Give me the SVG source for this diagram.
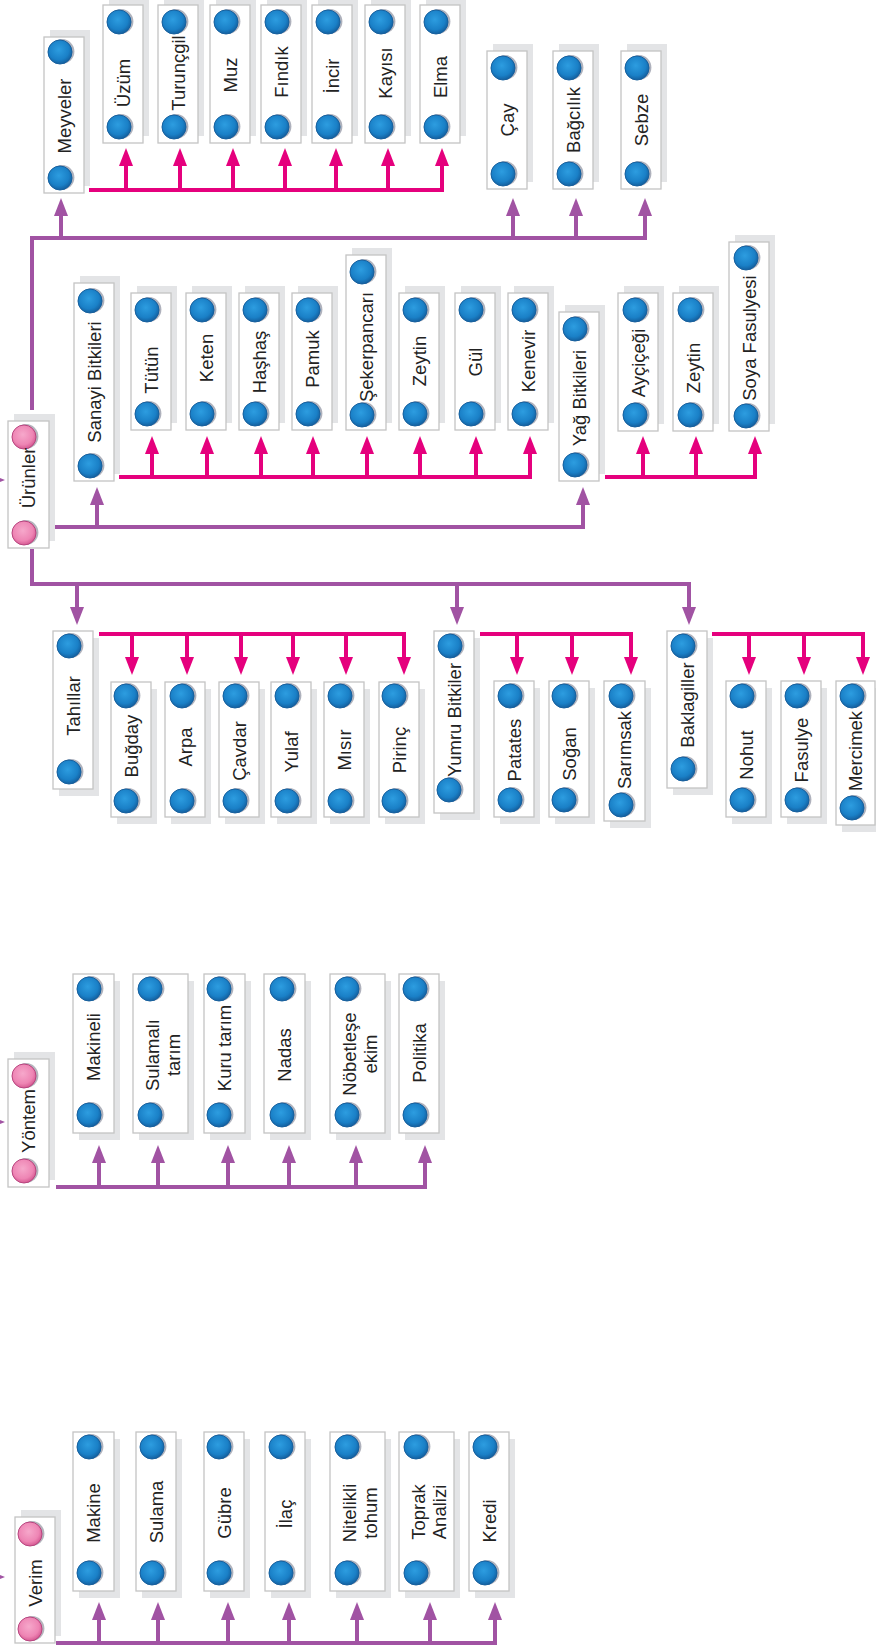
<svg xmlns="http://www.w3.org/2000/svg" xmlns:xlink="http://www.w3.org/1999/xlink" width="876" height="1648" viewBox="0 0 876 1648">
<style>
.box{fill:#fff;stroke:#c4c4c4;stroke-width:1.3}
.sh{fill:#e3e4e6}
.t{font-family:"Liberation Sans",Arial,sans-serif;font-size:18.5px;fill:#222;text-anchor:middle}
.pk{fill:none;stroke:#e5007d;stroke-width:4}
.pk.a{marker-end:url(#ap)}
.pu{fill:none;stroke:#a153a3;stroke-width:4}
.pu.a{marker-end:url(#aq)}
</style>
<defs>
<radialGradient id="gb" cx="45%" cy="40%" r="60%">
<stop offset="0" stop-color="#2d9de0"/><stop offset="0.7" stop-color="#1a80c7"/><stop offset="1" stop-color="#14609f"/>
</radialGradient>
<radialGradient id="gp" cx="45%" cy="40%" r="60%">
<stop offset="0" stop-color="#f6a8cb"/><stop offset="0.7" stop-color="#ee85b4"/><stop offset="1" stop-color="#d65a93"/>
</radialGradient>
<g id="bd"><circle cx="2" cy="-0.5" r="12.4" fill="#aeb1bc"/><circle r="12" fill="url(#gb)" stroke="#17609e" stroke-width="1"/></g>
<g id="pd"><circle cx="2" cy="-0.5" r="12.4" fill="#b4b4bc"/><circle r="12" fill="url(#gp)" stroke="#b8457f" stroke-width="1"/></g>
<marker id="ap" viewBox="0 0 18 14" refX="8" refY="7" markerWidth="18" markerHeight="14" markerUnits="userSpaceOnUse" orient="auto"><path d="M0,0 L18,7 L0,14 z" fill="#e5007d"/></marker>
<marker id="aq" viewBox="0 0 18 14" refX="8" refY="7" markerWidth="18" markerHeight="14" markerUnits="userSpaceOnUse" orient="auto"><path d="M0,0 L18,7 L0,14 z" fill="#a153a3"/></marker>
</defs>

<g id="connectors">
<path class="pu a" d="M32,410 V238 H645 V208"/>
<path class="pu a" d="M61,238 V208"/><path class="pu a" d="M513,238 V208"/><path class="pu a" d="M576,238 V208"/>
<path class="pu a" d="M55,527 H583 V497"/><path class="pu a" d="M97,527 V497"/>
<path class="pu a" d="M32,549 V584 H689 V615"/><path class="pu a" d="M77,584 V615"/><path class="pu a" d="M457,584 V615"/>
<path class="pu a" d="M56,1187 H425 V1155"/>
<path class="pu a" d="M99,1187 V1155"/><path class="pu a" d="M158,1187 V1155"/><path class="pu a" d="M228,1187 V1155"/><path class="pu a" d="M289,1187 V1155"/><path class="pu a" d="M356,1187 V1155"/>
<path class="pu a" d="M56,1643 H495 V1612"/>
<path class="pu a" d="M99,1643 V1612"/><path class="pu a" d="M158,1643 V1612"/><path class="pu a" d="M228,1643 V1612"/><path class="pu a" d="M289,1643 V1612"/><path class="pu a" d="M357,1643 V1612"/><path class="pu a" d="M430,1643 V1612"/>
<path class="pu a" d="M-13,480 H-5"/><path class="pu a" d="M-13,1122 H-5"/><path class="pu a" d="M-13,1577 H-5"/>

<path class="pk a" d="M89,190 H442 V158"/>
<path class="pk a" d="M126,190 V158"/><path class="pk a" d="M180,190 V158"/><path class="pk a" d="M233,190 V158"/><path class="pk a" d="M285,190 V158"/><path class="pk a" d="M336,190 V158"/><path class="pk a" d="M388,190 V158"/>
<path class="pk a" d="M119,477 H530 V446"/>
<path class="pk a" d="M152,477 V446"/><path class="pk a" d="M207,477 V446"/><path class="pk a" d="M261,477 V446"/><path class="pk a" d="M313,477 V446"/><path class="pk a" d="M367,477 V446"/><path class="pk a" d="M420,477 V446"/><path class="pk a" d="M476,477 V446"/>
<path class="pk a" d="M605,477 H755 V446"/><path class="pk a" d="M643,477 V446"/><path class="pk a" d="M696,477 V446"/>
<path class="pk a" d="M99,634 H404 V665"/>
<path class="pk a" d="M132,634 V665"/><path class="pk a" d="M187,634 V665"/><path class="pk a" d="M241,634 V665"/><path class="pk a" d="M293,634 V665"/><path class="pk a" d="M346,634 V665"/>
<path class="pk a" d="M480,634 H631 V665"/><path class="pk a" d="M517,634 V665"/><path class="pk a" d="M572,634 V665"/>
<path class="pk a" d="M712,634 H863 V665"/><path class="pk a" d="M749,634 V665"/><path class="pk a" d="M804,634 V665"/>
</g>

<!-- Row 1 -->
<g id="n-meyveler"><rect class="sh" x="50" y="30" width="40" height="156"/><rect class="box" x="44" y="37" width="40" height="156"/><use xlink:href="#bd" x="60" y="52"/><use xlink:href="#bd" x="60" y="178"/><text class="t" transform="translate(64,116) rotate(-90)" y="6.5">Meyveler</text></g>
<g id="n-uzum"><rect class="sh" x="109" y="-2" width="40" height="138"/><rect class="box" x="103" y="5" width="40" height="138"/><use xlink:href="#bd" x="119" y="22"/><use xlink:href="#bd" x="119" y="127"/><text class="t" transform="translate(123,83) rotate(-90)" y="6.5">Üzüm</text></g>
<g id="n-turuncgil"><rect class="sh" x="164" y="-2" width="40" height="138"/><rect class="box" x="158" y="5" width="40" height="138"/><use xlink:href="#bd" x="174" y="22"/><use xlink:href="#bd" x="174" y="127"/><text class="t" transform="translate(178,73) rotate(-90)" y="6.5">Turunçgil</text></g>
<g id="n-muz"><rect class="sh" x="216" y="-2" width="40" height="138"/><rect class="box" x="210" y="5" width="40" height="138"/><use xlink:href="#bd" x="226" y="22"/><use xlink:href="#bd" x="226" y="127"/><text class="t" transform="translate(230,75) rotate(-90)" y="6.5">Muz</text></g>
<g id="n-findik"><rect class="sh" x="267" y="-2" width="40" height="138"/><rect class="box" x="261" y="5" width="40" height="138"/><use xlink:href="#bd" x="277" y="22"/><use xlink:href="#bd" x="277" y="127"/><text class="t" transform="translate(281,72) rotate(-90)" y="6.5">Fındık</text></g>
<g id="n-incir"><rect class="sh" x="318" y="-2" width="40" height="138"/><rect class="box" x="312" y="5" width="40" height="138"/><use xlink:href="#bd" x="328" y="22"/><use xlink:href="#bd" x="328" y="127"/><text class="t" transform="translate(332,76) rotate(-90)" y="6.5">İncir</text></g>
<g id="n-kayisi"><rect class="sh" x="371" y="-2" width="40" height="138"/><rect class="box" x="365" y="5" width="40" height="138"/><use xlink:href="#bd" x="381" y="22"/><use xlink:href="#bd" x="381" y="127"/><text class="t" transform="translate(385,73) rotate(-90)" y="6.5">Kayısı</text></g>
<g id="n-elma"><rect class="sh" x="426" y="-2" width="40" height="138"/><rect class="box" x="420" y="5" width="40" height="138"/><use xlink:href="#bd" x="436" y="22"/><use xlink:href="#bd" x="436" y="127"/><text class="t" transform="translate(440,77) rotate(-90)" y="6.5">Elma</text></g>
<g id="n-cay"><rect class="sh" x="493" y="44" width="40" height="138"/><rect class="box" x="487" y="51" width="40" height="138"/><use xlink:href="#bd" x="503" y="68"/><use xlink:href="#bd" x="503" y="174"/><text class="t" transform="translate(507,120) rotate(-90)" y="6.5">Çay</text></g>
<g id="n-bagcilik"><rect class="sh" x="559" y="44" width="40" height="138"/><rect class="box" x="553" y="51" width="40" height="138"/><use xlink:href="#bd" x="569" y="68"/><use xlink:href="#bd" x="569" y="174"/><text class="t" transform="translate(573,120) rotate(-90)" y="6.5">Bağcılık</text></g>
<g id="n-sebze"><rect class="sh" x="627" y="44" width="40" height="138"/><rect class="box" x="621" y="51" width="40" height="138"/><use xlink:href="#bd" x="637" y="68"/><use xlink:href="#bd" x="637" y="174"/><text class="t" transform="translate(641,120) rotate(-90)" y="6.5">Sebze</text></g>

<!-- Row 2 -->
<g id="n-urunler"><rect class="sh" x="14" y="414" width="41" height="127"/><rect class="box" x="8" y="421" width="41" height="127"/><use xlink:href="#pd" x="24" y="437"/><use xlink:href="#pd" x="24" y="533"/><text class="t" transform="translate(28.5,478) rotate(-90)" y="6.5">Ürünler</text></g>
<g id="n-sanayi"><rect class="sh" x="80" y="276" width="40" height="198"/><rect class="box" x="74" y="283" width="40" height="198"/><use xlink:href="#bd" x="90" y="301"/><use xlink:href="#bd" x="90" y="466"/><text class="t" transform="translate(94,382) rotate(-90)" y="6.5">Sanayi Bitkileri</text></g>
<g id="n-tutun"><rect class="sh" x="137" y="286" width="40" height="137"/><rect class="box" x="131" y="293" width="40" height="137"/><use xlink:href="#bd" x="147" y="310"/><use xlink:href="#bd" x="147" y="414"/><text class="t" transform="translate(151,370) rotate(-90)" y="6.5">Tütün</text></g>
<g id="n-keten"><rect class="sh" x="192" y="286" width="40" height="137"/><rect class="box" x="186" y="293" width="40" height="137"/><use xlink:href="#bd" x="202" y="310"/><use xlink:href="#bd" x="202" y="414"/><text class="t" transform="translate(206,358) rotate(-90)" y="6.5">Keten</text></g>
<g id="n-hashas"><rect class="sh" x="245" y="286" width="40" height="137"/><rect class="box" x="239" y="293" width="40" height="137"/><use xlink:href="#bd" x="255" y="310"/><use xlink:href="#bd" x="255" y="414"/><text class="t" transform="translate(259,362) rotate(-90)" y="6.5">Haşhaş</text></g>
<g id="n-pamuk"><rect class="sh" x="298" y="286" width="40" height="137"/><rect class="box" x="292" y="293" width="40" height="137"/><use xlink:href="#bd" x="308" y="310"/><use xlink:href="#bd" x="308" y="414"/><text class="t" transform="translate(312,359) rotate(-90)" y="6.5">Pamuk</text></g>
<g id="n-sekerpancari"><rect class="sh" x="352" y="248" width="40" height="175"/><rect class="box" x="346" y="255" width="40" height="175"/><use xlink:href="#bd" x="362" y="272"/><use xlink:href="#bd" x="362" y="415"/><text class="t" transform="translate(366,347) rotate(-90)" y="6.5">Şekerpancarı</text></g>
<g id="n-zeytin1"><rect class="sh" x="405" y="286" width="40" height="137"/><rect class="box" x="399" y="293" width="40" height="137"/><use xlink:href="#bd" x="415" y="310"/><use xlink:href="#bd" x="415" y="414"/><text class="t" transform="translate(419,361) rotate(-90)" y="6.5">Zeytin</text></g>
<g id="n-gul"><rect class="sh" x="461" y="286" width="40" height="137"/><rect class="box" x="455" y="293" width="40" height="137"/><use xlink:href="#bd" x="471" y="310"/><use xlink:href="#bd" x="471" y="414"/><text class="t" transform="translate(475,362) rotate(-90)" y="6.5">Gül</text></g>
<g id="n-kenevir"><rect class="sh" x="514" y="286" width="40" height="137"/><rect class="box" x="508" y="293" width="40" height="137"/><use xlink:href="#bd" x="524" y="310"/><use xlink:href="#bd" x="524" y="414"/><text class="t" transform="translate(528,361) rotate(-90)" y="6.5">Kenevir</text></g>
<g id="n-yag"><rect class="sh" x="565" y="305" width="40" height="169"/><rect class="box" x="559" y="312" width="40" height="169"/><use xlink:href="#bd" x="575" y="329"/><use xlink:href="#bd" x="575" y="465"/><text class="t" transform="translate(579,398) rotate(-90)" y="6.5">Yağ Bitkileri</text></g>
<g id="n-aycicegi"><rect class="sh" x="624" y="286" width="40" height="138"/><rect class="box" x="618" y="293" width="40" height="138"/><use xlink:href="#bd" x="635" y="310"/><use xlink:href="#bd" x="635" y="415"/><text class="t" transform="translate(638,363) rotate(-90)" y="6.5">Ayçiçeği</text></g>
<g id="n-zeytin2"><rect class="sh" x="679" y="286" width="40" height="138"/><rect class="box" x="673" y="293" width="40" height="138"/><use xlink:href="#bd" x="690" y="310"/><use xlink:href="#bd" x="690" y="415"/><text class="t" transform="translate(693,368) rotate(-90)" y="6.5">Zeytin</text></g>
<g id="n-soya"><rect class="sh" x="735" y="235" width="40" height="189"/><rect class="box" x="729" y="242" width="40" height="189"/><use xlink:href="#bd" x="746" y="258"/><use xlink:href="#bd" x="746" y="416"/><text class="t" transform="translate(749,338) rotate(-90)" y="6.5">Soya Fasulyesi</text></g>

<!-- Row 3 -->
<g id="n-tahillar"><rect class="sh" x="59" y="638" width="40" height="158"/><rect class="box" x="53" y="631" width="40" height="158"/><use xlink:href="#bd" x="69" y="646"/><use xlink:href="#bd" x="69" y="772"/><text class="t" transform="translate(73,706) rotate(-90)" y="6.5">Tahıllar</text></g>
<g id="n-bugday"><rect class="sh" x="117" y="689" width="40" height="135"/><rect class="box" x="111" y="682" width="40" height="135"/><use xlink:href="#bd" x="126" y="696"/><use xlink:href="#bd" x="126" y="801"/><text class="t" transform="translate(131,746) rotate(-90)" y="6.5">Buğday</text></g>
<g id="n-arpa"><rect class="sh" x="171" y="689" width="40" height="135"/><rect class="box" x="165" y="682" width="40" height="135"/><use xlink:href="#bd" x="182" y="696"/><use xlink:href="#bd" x="182" y="801"/><text class="t" transform="translate(185,747) rotate(-90)" y="6.5">Arpa</text></g>
<g id="n-cavdar"><rect class="sh" x="225" y="689" width="40" height="135"/><rect class="box" x="219" y="682" width="40" height="135"/><use xlink:href="#bd" x="235" y="696"/><use xlink:href="#bd" x="235" y="801"/><text class="t" transform="translate(239,751) rotate(-90)" y="6.5">Çavdar</text></g>
<g id="n-yulaf"><rect class="sh" x="277" y="689" width="40" height="135"/><rect class="box" x="271" y="682" width="40" height="135"/><use xlink:href="#bd" x="287" y="696"/><use xlink:href="#bd" x="287" y="801"/><text class="t" transform="translate(291,752) rotate(-90)" y="6.5">Yulaf</text></g>
<g id="n-misir"><rect class="sh" x="330" y="689" width="40" height="135"/><rect class="box" x="324" y="682" width="40" height="135"/><use xlink:href="#bd" x="340" y="696"/><use xlink:href="#bd" x="340" y="801"/><text class="t" transform="translate(344,750) rotate(-90)" y="6.5">Mısır</text></g>
<g id="n-pirinc"><rect class="sh" x="385" y="689" width="40" height="135"/><rect class="box" x="379" y="682" width="40" height="135"/><use xlink:href="#bd" x="394" y="696"/><use xlink:href="#bd" x="394" y="801"/><text class="t" transform="translate(399,750) rotate(-90)" y="6.5">Pirinç</text></g>
<g id="n-yumru"><rect class="sh" x="440" y="638" width="40" height="182"/><rect class="box" x="434" y="631" width="40" height="182"/><use xlink:href="#bd" x="450" y="646"/><use xlink:href="#bd" x="449" y="790"/><text class="t" transform="translate(454,720) rotate(-90)" y="6.5">Yumru Bitkiler</text></g>
<g id="n-patates"><rect class="sh" x="500" y="688" width="40" height="136"/><rect class="box" x="494" y="681" width="40" height="136"/><use xlink:href="#bd" x="510" y="696"/><use xlink:href="#bd" x="510" y="800"/><text class="t" transform="translate(514,750) rotate(-90)" y="6.5">Patates</text></g>
<g id="n-sogan"><rect class="sh" x="555" y="688" width="40" height="136"/><rect class="box" x="549" y="681" width="40" height="136"/><use xlink:href="#bd" x="564" y="696"/><use xlink:href="#bd" x="564" y="800"/><text class="t" transform="translate(569,754) rotate(-90)" y="6.5">Soğan</text></g>
<g id="n-sarimsak"><rect class="sh" x="610" y="688" width="41" height="140"/><rect class="box" x="604" y="681" width="41" height="140"/><use xlink:href="#bd" x="621" y="696"/><use xlink:href="#bd" x="621" y="805"/><text class="t" transform="translate(624.5,750) rotate(-90)" y="6.5">Sarımsak</text></g>
<g id="n-baklagiller"><rect class="sh" x="673" y="638" width="40" height="157"/><rect class="box" x="667" y="631" width="40" height="157"/><use xlink:href="#bd" x="683" y="646"/><use xlink:href="#bd" x="683" y="769"/><text class="t" transform="translate(687,705) rotate(-90)" y="6.5">Baklagiller</text></g>
<g id="n-nohut"><rect class="sh" x="732" y="688" width="40" height="136"/><rect class="box" x="726" y="681" width="40" height="136"/><use xlink:href="#bd" x="742" y="696"/><use xlink:href="#bd" x="742" y="800"/><text class="t" transform="translate(746,755) rotate(-90)" y="6.5">Nohut</text></g>
<g id="n-fasulye"><rect class="sh" x="787" y="688" width="40" height="136"/><rect class="box" x="781" y="681" width="40" height="136"/><use xlink:href="#bd" x="797" y="696"/><use xlink:href="#bd" x="797" y="800"/><text class="t" transform="translate(801,750) rotate(-90)" y="6.5">Fasulye</text></g>
<g id="n-mercimek"><rect class="sh" x="842" y="688" width="40" height="144"/><rect class="box" x="836" y="681" width="39" height="144"/><use xlink:href="#bd" x="852" y="696"/><use xlink:href="#bd" x="852" y="808"/><text class="t" transform="translate(855.5,751) rotate(-90)" y="6.5">Mercimek</text></g>

<!-- Yöntem -->
<g id="n-yontem"><rect class="sh" x="14" y="1052" width="41" height="128"/><rect class="box" x="8" y="1059" width="41" height="128"/><use xlink:href="#pd" x="24" y="1076"/><use xlink:href="#pd" x="24" y="1171"/><text class="t" transform="translate(28.5,1121) rotate(-90)" y="6.5">Yöntem</text></g>
<g id="n-makineli"><rect class="sh" x="79" y="981" width="41" height="159"/><rect class="box" x="73" y="974" width="41" height="159"/><use xlink:href="#bd" x="89" y="989"/><use xlink:href="#bd" x="89" y="1115"/><text class="t" transform="translate(93.5,1047) rotate(-90)" y="6.5">Makineli</text></g>
<g id="n-sulamali"><rect class="sh" x="139" y="981" width="55" height="159"/><rect class="box" x="133" y="974" width="55" height="159"/><use xlink:href="#bd" x="150" y="989"/><use xlink:href="#bd" x="150" y="1115"/><text class="t" transform="translate(160.5,1055) rotate(-90)"><tspan x="0" y="-2">Sulamalı</tspan><tspan x="0" y="19.5">tarım</tspan></text></g>
<g id="n-kuru"><rect class="sh" x="210" y="981" width="41" height="159"/><rect class="box" x="204" y="974" width="41" height="159"/><use xlink:href="#bd" x="219" y="989"/><use xlink:href="#bd" x="219" y="1115"/><text class="t" transform="translate(224.5,1048) rotate(-90)" y="6.5">Kuru tarım</text></g>
<g id="n-nadas"><rect class="sh" x="270" y="981" width="41" height="159"/><rect class="box" x="264" y="974" width="41" height="159"/><use xlink:href="#bd" x="282" y="989"/><use xlink:href="#bd" x="282" y="1115"/><text class="t" transform="translate(284.5,1055) rotate(-90)" y="6.5">Nadas</text></g>
<g id="n-nobetlese"><rect class="sh" x="336" y="981" width="55" height="159"/><rect class="box" x="330" y="974" width="55" height="159"/><use xlink:href="#bd" x="347" y="989"/><use xlink:href="#bd" x="347" y="1115"/><text class="t" transform="translate(357.5,1054) rotate(-90)"><tspan x="0" y="-2">Nöbetleşe</tspan><tspan x="0" y="19.5">ekim</tspan></text></g>
<g id="n-politika"><rect class="sh" x="405" y="981" width="40" height="159"/><rect class="box" x="399" y="974" width="40" height="159"/><use xlink:href="#bd" x="415" y="989"/><use xlink:href="#bd" x="415" y="1115"/><text class="t" transform="translate(419,1053) rotate(-90)" y="6.5">Politika</text></g>

<!-- Verim -->
<g id="n-verim"><rect class="sh" x="21" y="1510" width="40" height="126"/><rect class="box" x="15" y="1517" width="40" height="126"/><use xlink:href="#pd" x="30" y="1534"/><use xlink:href="#pd" x="30" y="1629"/><text class="t" transform="translate(35,1583) rotate(-90)" y="6.5">Verim</text></g>
<g id="n-makine"><rect class="sh" x="79" y="1439" width="41" height="159"/><rect class="box" x="73" y="1432" width="41" height="159"/><use xlink:href="#bd" x="89" y="1447"/><use xlink:href="#bd" x="89" y="1573"/><text class="t" transform="translate(93.5,1513) rotate(-90)" y="6.5">Makine</text></g>
<g id="n-sulama"><rect class="sh" x="142" y="1439" width="40" height="159"/><rect class="box" x="136" y="1432" width="40" height="159"/><use xlink:href="#bd" x="152" y="1447"/><use xlink:href="#bd" x="152" y="1573"/><text class="t" transform="translate(156,1512) rotate(-90)" y="6.5">Sulama</text></g>
<g id="n-gubre"><rect class="sh" x="210" y="1439" width="40" height="159"/><rect class="box" x="204" y="1432" width="40" height="159"/><use xlink:href="#bd" x="219" y="1447"/><use xlink:href="#bd" x="219" y="1573"/><text class="t" transform="translate(224,1513) rotate(-90)" y="6.5">Gübre</text></g>
<g id="n-ilac"><rect class="sh" x="271" y="1439" width="40" height="159"/><rect class="box" x="265" y="1432" width="40" height="159"/><use xlink:href="#bd" x="281" y="1447"/><use xlink:href="#bd" x="281" y="1573"/><text class="t" transform="translate(285,1514) rotate(-90)" y="6.5">İlaç</text></g>
<g id="n-nitelikli"><rect class="sh" x="336" y="1439" width="55" height="159"/><rect class="box" x="330" y="1432" width="55" height="159"/><use xlink:href="#bd" x="347" y="1447"/><use xlink:href="#bd" x="347" y="1573"/><text class="t" transform="translate(357.5,1513) rotate(-90)"><tspan x="0" y="-2">Nitelikli</tspan><tspan x="0" y="19.5">tohum</tspan></text></g>
<g id="n-toprak"><rect class="sh" x="405" y="1439" width="55" height="159"/><rect class="box" x="399" y="1432" width="55" height="159"/><use xlink:href="#bd" x="416" y="1447"/><use xlink:href="#bd" x="416" y="1573"/><text class="t" transform="translate(426.5,1512) rotate(-90)"><tspan x="0" y="-2">Toprak</tspan><tspan x="0" y="19.5">Analizi</tspan></text></g>
<g id="n-kredi"><rect class="sh" x="475" y="1439" width="40" height="159"/><rect class="box" x="469" y="1432" width="40" height="159"/><use xlink:href="#bd" x="485" y="1447"/><use xlink:href="#bd" x="485" y="1573"/><text class="t" transform="translate(489,1521) rotate(-90)" y="6.5">Kredi</text></g>
</svg>
